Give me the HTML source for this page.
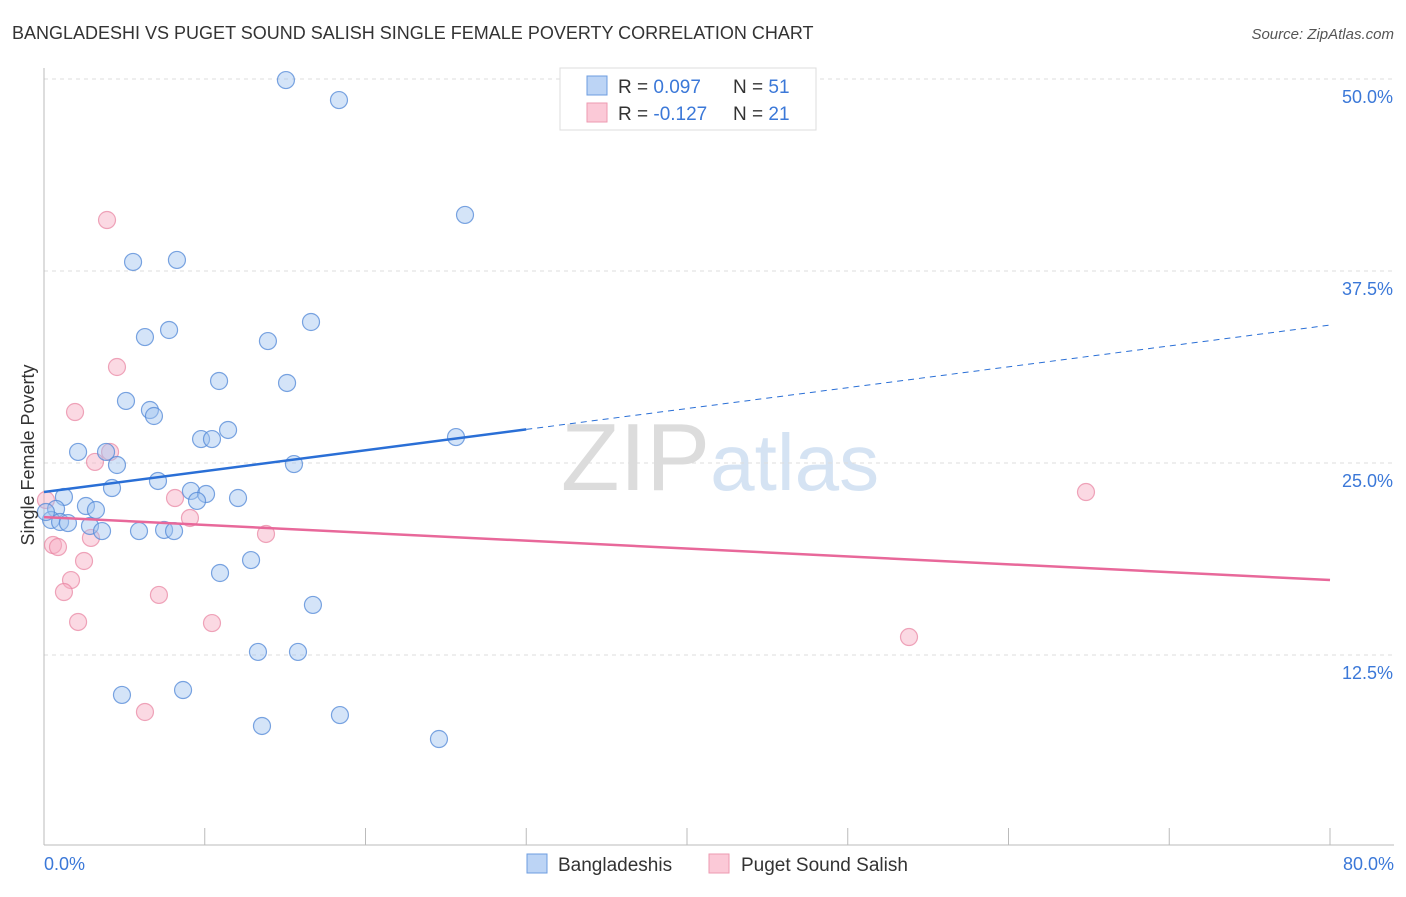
<!DOCTYPE html>
<html><head><meta charset="utf-8"><style>
body{margin:0;background:#fff;font-family:"Liberation Sans",sans-serif}
svg text{font-family:"Liberation Sans",sans-serif}
</style></head><body>
<svg id="chart" width="1406" height="892" xmlns="http://www.w3.org/2000/svg">
<text x="12" y="39" font-size="18" fill="#333">BANGLADESHI VS PUGET SOUND SALISH SINGLE FEMALE POVERTY CORRELATION CHART</text>
<text x="1394" y="39" font-size="15" fill="#555" text-anchor="end" font-style="italic">Source: ZipAtlas.com</text>
<text x="720" y="490" font-size="96" text-anchor="middle" fill="#e3e3e3" font-family="Liberation Serif"><tspan fill="#dcdcdc">ZIP</tspan><tspan fill="#d5e3f3" font-family="Liberation Sans" font-size="80">atlas</tspan></text>
<g id="grid"></g>
<g id="axes"></g>
<g id="points"></g>
<g id="trends"></g>
<text transform="translate(34,455) rotate(-90)" font-size="18" fill="#333" text-anchor="middle">Single Female Poverty</text>
<text x="44" y="870" font-size="18" fill="#3b78d8">0.0%</text>
<text x="1394" y="870" font-size="18" fill="#3b78d8" text-anchor="end">80.0%</text>
<g>
<rect x="560" y="68" width="256" height="62" fill="#fff" stroke="#ddd"/>
<rect x="587" y="76" width="20" height="19" fill="#bcd4f5" stroke="#6d9de0"/>
<rect x="587" y="103" width="20" height="19" fill="#fbc9d7" stroke="#ee9ab1"/>
<text x="618" y="93" font-size="19" fill="#333">R = <tspan fill="#3b78d8">0.097</tspan><tspan x="733">N = </tspan><tspan fill="#3b78d8">51</tspan></text>
<text x="618" y="120" font-size="19" fill="#333">R = <tspan fill="#3b78d8">-0.127</tspan><tspan x="733">N = </tspan><tspan fill="#3b78d8">21</tspan></text>
</g>
<g>
<rect x="527" y="854" width="20" height="19" fill="#bcd4f5" stroke="#6d9de0"/>
<text x="558" y="871" font-size="19" fill="#333">Bangladeshis</text></g>
<g>
<rect x="709" y="854" width="20" height="19" fill="#fbc9d7" stroke="#ee9ab1"/>
<text x="741" y="871" font-size="19" fill="#333">Puget Sound Salish</text></g>
</svg>
<script>
const yTicks=[12.5,25.0,37.5,50.0];
const yTickLabels=["12.5%","25.0%","37.5%","50.0%"];
const xTicks=[0,10,20,30,40,50,60,70,80];
const blueX=[15.05,18.35,26.19,5.54,8.27,6.28,7.78,13.93,16.61,10.89,15.12,5.10,6.59,6.84,11.45,9.77,10.45,25.63,2.12,3.86,4.54,15.55,7.09,4.23,1.24,9.14,10.08,12.07,0.75,2.61,3.23,9.52,0.44,1.00,1.49,2.86,3.61,5.91,7.47,8.09,10.95,12.88,16.73,13.31,15.80,4.85,8.65,13.56,18.41,24.57,0.12];
const blueY=[49.93,48.63,41.15,38.09,38.22,33.20,33.66,32.94,34.18,30.34,30.21,29.04,28.45,28.06,27.15,26.56,26.56,26.69,25.72,25.72,24.87,24.93,23.83,23.37,22.79,23.18,22.98,22.72,22.01,22.20,21.94,22.53,21.29,21.16,21.09,20.90,20.57,20.57,20.64,20.57,17.84,18.68,15.76,12.70,12.70,9.90,10.22,7.88,8.59,7.03,21.81];
const pinkX=[3.92,4.54,1.93,3.17,4.11,8.15,9.08,2.92,13.81,64.82,0.12,0.56,0.87,2.49,1.68,1.24,7.15,2.12,10.45,53.81,6.28];
const pinkY=[40.82,31.25,28.32,25.07,25.72,22.72,21.42,20.12,20.38,23.11,22.59,19.66,19.53,18.62,17.38,16.60,16.41,14.65,14.58,13.67,8.79];
const blueTrend=[23.11,33.98]; const blueSolidEnd=30;
const pinkTrend=[21.48,17.38];
const NS="http://www.w3.org/2000/svg";
const sx=v=>44+v/80*1286, sy=v=>847-v*15.36;
function mk(p,t,a){const e=document.createElementNS(NS,t);for(const k in a)e.setAttribute(k,a[k]);document.getElementById(p).appendChild(e);return e;}
yTicks.forEach((t,i)=>{
 const l=mk('grid','line',{x1:44,x2:1394,y1:sy(t),y2:sy(t),stroke:'#ddd','stroke-dasharray':'4,4'});
 
 
 const tx=mk('grid','text',{x:1393,y:sy(t)+24,'font-size':18,fill:'#3b78d8','text-anchor':'end'});
 tx.textContent=yTickLabels[i];
 
 
});
const ax=mk('axes','line',{x1:44,x2:1394,y1:845,y2:845,stroke:'#bbb'});


const ay=mk('axes','line',{x1:44,x2:44,y1:68,y2:845,stroke:'#bbb'});


xTicks.forEach(t=>{const l=mk('axes','line',{x1:sx(t),x2:sx(t),y1:828,y2:845,stroke:'#bbb'});
 
 });
pinkX.forEach((x,i)=>{const c=mk('points','circle',{cx:sx(x),cy:sy(pinkY[i]),r:8.5,fill:'rgba(246,170,192,0.45)',stroke:'rgba(232,130,160,0.7)','stroke-width':1.2});
 
 });
blueX.forEach((x,i)=>{const c=mk('points','circle',{cx:sx(x),cy:sy(blueY[i]),r:8.5,fill:'rgba(160,195,240,0.45)',stroke:'rgba(80,135,215,0.75)','stroke-width':1.2});
 
 });
const by=x=>blueTrend[0]+(blueTrend[1]-blueTrend[0])*x/80;
const b1=mk('trends','line',{x1:sx(0),y1:sy(by(0)),x2:sx(blueSolidEnd),y2:sy(by(blueSolidEnd)),stroke:'#2a6fd6','stroke-width':2.5});


const b2=mk('trends','line',{x1:sx(blueSolidEnd),y1:sy(by(blueSolidEnd)),x2:sx(80),y2:sy(by(80)),stroke:'#2a6fd6','stroke-width':1,'stroke-dasharray':'6,5'});


const p1=mk('trends','line',{x1:sx(0),y1:sy(pinkTrend[0]),x2:sx(80),y2:sy(pinkTrend[1]),stroke:'#e8689a','stroke-width':2.5});


</script>
</body></html>
